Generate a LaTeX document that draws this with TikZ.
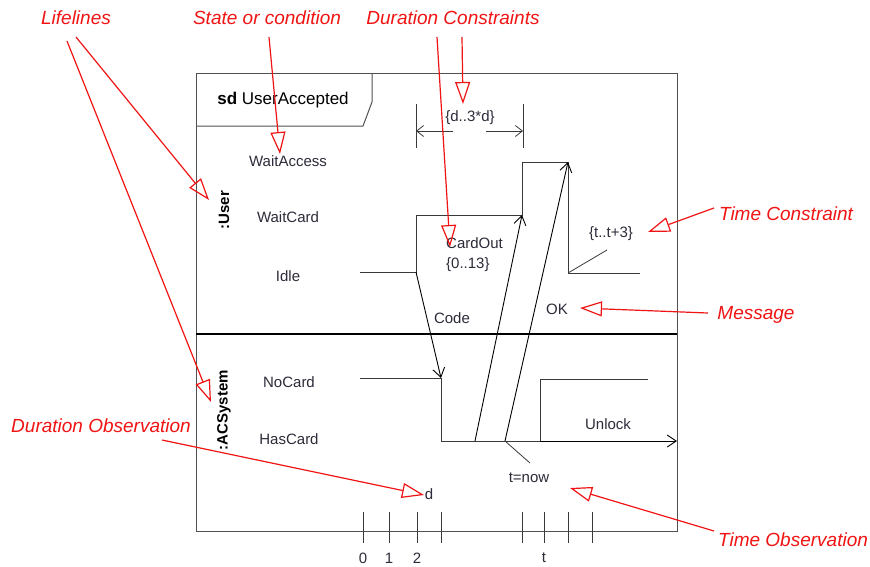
\documentclass[tikz,border=0pt]{standalone}
\usepackage{fontspec}
\setmainfont{Liberation Sans}
\usetikzlibrary{arrows.meta}
\definecolor{ink}{HTML}{2C2C3A}
\definecolor{tline}{HTML}{3A3A3A}
\definecolor{frm}{HTML}{505050}
\definecolor{anno}{HTML}{F01414}
\tikzset{
  lbl/.style={font=\fontsize{15}{17}\selectfont, text=ink, inner sep=0pt},
  lifename/.style={font=\fontsize{15}{17}\selectfont\bfseries, text=black, inner sep=0pt, rotate=90},
  anntext/.style={font=\fontsize{19}{22}\selectfont\itshape, text=anno, inner sep=0pt},
  annarrow/.style={draw=anno, line width=1.2pt, -{Triangle[open, length=22pt, width=15pt, line width=1.2pt]}},
  tl/.style={draw=tline, line width=0.8pt},
  msg/.style={draw=black, line width=0.9pt, -{Straight Barb[length=9pt, width=12pt, line width=0.9pt]}},
  tick/.style={draw=tline, line width=0.9pt},
}
\begin{document}
\begin{tikzpicture}[x=1pt,y=-1pt]
\useasboundingbox (0,0) rectangle (870,566);
\fill[white] (0,0) rectangle (870,566);

% frame
\draw[draw=frm, line width=1pt] (196,73) rectangle (677,531);
\draw[draw=frm, line width=1pt] (196,126) -- (363,126) -- (372,102) -- (372,73);
\node[font=\fontsize{17}{20}\selectfont, text=black, inner sep=0pt] (title) at (283,100) {\textbf{sd} UserAccepted};
\draw[line width=2.2pt, black] (196,334) -- (677,334);

% lifeline names
\node[lifename] (user) at (224,210) {:User};
\node[lifename] (acs) at (224,410) {:ACSystem};

% state labels
\node[lbl] (waitaccess) at (288,161) {WaitAccess};
\node[lbl] (waitcard) at (288,217) {WaitCard};
\node[lbl] (idle) at (288,276) {Idle};
\node[lbl] (nocard) at (289,382) {NoCard};
\node[lbl] (hascard) at (289,439) {HasCard};

% User timeline
\coordinate (u0) at (360,272);
\coordinate (u1) at (416,272);
\coordinate (u2) at (416,215);
\coordinate (u3) at (522,215);
\coordinate (u4) at (522,162);
\coordinate (u5) at (568,162);
\coordinate (u6) at (568,273);
\coordinate (u7) at (640,273);
\draw[tl] (u0) -- (u1) -- (u2) -- (u3) -- (u4) -- (u5) -- (u6) -- (u7);

% ACSystem timeline
\coordinate (a0) at (360,378);
\coordinate (a1) at (441,378);
\coordinate (a2) at (441,441);
\coordinate (a3) at (540,441);
\coordinate (a4) at (677,441);
\coordinate (a5) at (540,379);
\coordinate (a6) at (648,379);
\draw[tl] (a0) -- (a1) -- (a2) -- (a3);
\draw[tl] (a3) -- (a5) -- (a6);
\draw[msg] (a3) -- (a4);

% messages
\coordinate (c0) at (475,441);
\coordinate (k0) at (505,441);
\draw[msg] (u1) -- (a1);
\draw[msg] (c0) -- (u3);
\draw[msg] (k0) -- (u5);

\node[lbl] (code) at (452,318) {Code};
\node[lbl] (ok) at (557,309) {OK};
\node[lbl] (unlock) at (608,424) {Unlock};
\node[lbl, anchor=west] (cardout) at (446,243) {CardOut};
\node[lbl, anchor=west] (cardoutc) at (446,265) {\{0..13\}};

% time observation
\coordinate (tn) at (530,463);
\draw[tl] (k0) -- (tn);
\node[lbl] (tnow) at (529,478) {t=now};

% time constraint
\coordinate (tc) at (607,250);
\draw[tl] (u6) -- (tc);
\node[lbl] (tcon) at (611,234) {\{t..t+3\}};

% duration constraint
\coordinate (dl1) at (416,104); \coordinate (dl2) at (416,148);
\coordinate (dr1) at (523,104); \coordinate (dr2) at (523,148);
\draw[tick] (dl1) -- (dl2);
\draw[tick] (dr1) -- (dr2);
\coordinate (dal) at (416,131); \coordinate (dals) at (453,131);
\coordinate (dar) at (523,131); \coordinate (dars) at (486,131);
\draw[tl, -{Straight Barb[length=7pt, width=11pt]}] (dals) -- (dal);
\draw[tl, -{Straight Barb[length=7pt, width=11pt]}] (dars) -- (dar);
\node[lbl] (dcon) at (470,118) {\{d..3*d\}};

% duration observation
\node[lbl] (dobs) at (429,494) {d};

% time axis
\foreach \x/\n in {363/t0,389/t1,417/t2,441/t3,522/t4,544/t5,568/t6,592/t7}{
  \coordinate (\n a) at (\x,512);
  \coordinate (\n b) at (\x,543);
  \draw[tick] (\n a) -- (\n b);
}
\node[lbl] (l0) at (363,558) {0};
\node[lbl] (l1) at (389,558) {1};
\node[lbl] (l2) at (417,558) {2};
\node[lbl] (lt) at (544,558) {t};

% annotations
\node[anntext] (lifelines) at (76,18) {Lifelines};
\node[anntext] (stateor) at (267,18) {State or condition};
\node[anntext] (durcons) at (453,18) {Duration Constraints};
\node[anntext] (timecons) at (786,214) {Time Constraint};
\node[anntext] (message) at (756,315) {Message};
\node[anntext] (timeobs) at (793,540) {Time Observation};
\node[anntext] (durobs) at (101,426) {Duration Observation};

\coordinate (ls1) at (76,37);  \coordinate (lt1) at (209,200);
\coordinate (ls2) at (67,41);  \coordinate (lt2) at (211,402);
\draw[annarrow] (ls1) -- (lt1);
\draw[annarrow] (ls2) -- (lt2);

\coordinate (ss) at (269,37); \coordinate (st) at (280,154);
\draw[annarrow] (ss) -- (st);

\coordinate (ds1) at (437,37); \coordinate (dt1) at (450,247);
\coordinate (ds2) at (462,37); \coordinate (dt2) at (463,104);
\draw[annarrow] (ds1) -- (dt1);
\draw[annarrow] (ds2) -- (dt2);

\coordinate (tcs) at (714,208); \coordinate (tct) at (648,232);
\draw[annarrow] (tcs) -- (tct);

\coordinate (ms) at (708,313); \coordinate (mt) at (580,308);
\draw[annarrow] (ms) -- (mt);

\coordinate (tos) at (714,531); \coordinate (tot) at (570,488);
\draw[annarrow] (tos) -- (tot);

\coordinate (dos) at (162,440); \coordinate (dot) at (424,495);
\draw[annarrow] (dos) -- (dot);
\end{tikzpicture}
\end{document}
